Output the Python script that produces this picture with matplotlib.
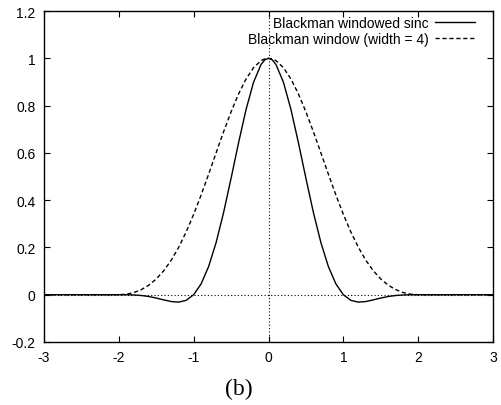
import numpy as np
import matplotlib
matplotlib.use('Agg')
from matplotlib import pyplot as plt

# values (right half, the curves are symmetric)
x_half = [0.0, 0.05, 0.1, 0.2, 0.3, 0.4, 0.5, 0.6, 0.7, 0.8, 0.9, 1.0,
          1.1, 1.2, 1.3, 1.4, 1.5, 1.6, 1.7, 1.8, 1.9, 2.0, 3.0]
sinc_half = [1.0, 0.9934, 0.9737, 0.8983, 0.7833, 0.6427, 0.4925, 0.3477,
             0.2207, 0.1192, 0.0461, 0.0, -0.0238, -0.0313, -0.0289, -0.0219,
             -0.0141, -0.0076, -0.0033, -0.0010, -0.0001, 0.0, 0.0]
window_half = [1.0, 0.9975, 0.9899, 0.9603, 0.9125, 0.8492, 0.7735, 0.6892,
               0.6000, 0.5098, 0.4221, 0.34, 0.2657, 0.2008, 0.1460, 0.1014,
               0.0665, 0.0402, 0.0215, 0.0092, 0.0022, 0.0, 0.0]

xs = [-v for v in x_half[::-1]] + x_half[1:]
sinc = sinc_half[::-1] + sinc_half[1:]
window = window_half[::-1] + window_half[1:]

plt.rcParams['font.family'] = ['Liberation Sans', 'DejaVu Sans']

fig = plt.figure(figsize=(5.02, 4.06), dpi=100)
ax = fig.add_axes([44 / 502, 1 - 343 / 406, 449 / 502, 331 / 406])

ax.axhline(0, color='black', lw=0.8, ls=(0, (1, 2)))
ax.axvline(0, color='black', lw=0.8, ls=(0, (1, 2)))
ax.plot(xs, sinc, color='black', lw=1.0, label='Blackman windowed sinc')
ax.plot(xs, window, color='black', lw=1.0, ls=(0, (3, 2)),
        label='Blackman window (width = 4)')

ax.set_xlim(-3, 3)
ax.set_ylim(-0.2, 1.2)
ax.set_xticks([-3, -2, -1, 0, 1, 2, 3])
ax.set_yticks([-0.2, 0, 0.2, 0.4, 0.6, 0.8, 1, 1.2])
ax.set_xticklabels(['-3', '-2', '-1', '0', '1', '2', '3'])
ax.set_yticklabels(['-0.2', '0', '0.2', '0.4', '0.6', '0.8', '1', '1.2'])
ax.tick_params(direction='in', top=True, right=True, length=4, width=0.8,
               labelsize=10, pad=6)
for s in ax.spines.values():
    s.set_linewidth(1.0)

leg = ax.legend(loc='upper right', frameon=False, fontsize=10,
                markerfirst=False, handlelength=2.9, handletextpad=0.45,
                labelspacing=0.15, borderpad=0, borderaxespad=0,
                bbox_to_anchor=(475 / 502, 1 - 17 / 406),
                bbox_transform=fig.transFigure)
for t in leg.get_texts():
    t.set_ha('right')

fig.text(239 / 502, 1 - 389 / 406, '(b)', family='Liberation Serif',
         fontsize=17, ha='center', va='center')

fig.savefig('out.png', dpi=100)
